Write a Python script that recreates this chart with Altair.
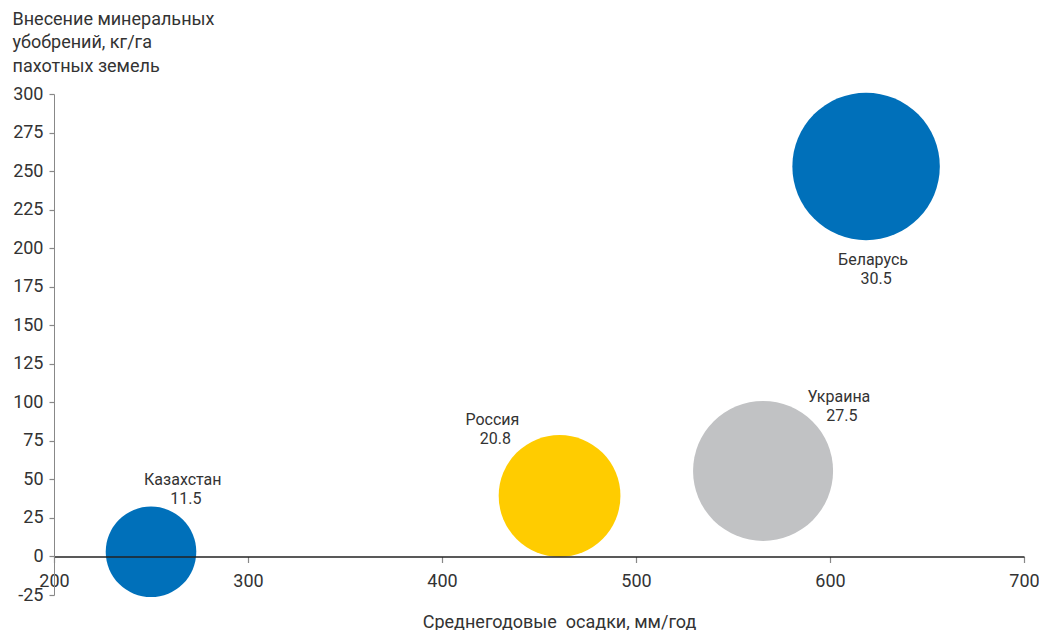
import altair as alt
import pandas as pd

countries = ["Казахстан", "Россия", "Украина", "Беларусь"]
precip = [250, 460.6, 565.5, 618.6]
fert = [3, 39.3, 55.5, 253]
bubble = [11.5, 20.8, 27.5, 30.5]
colors = ["#0070BA", "#FFCC00", "#C1C2C4", "#0070BA"]
label_x = [266.4, 426.0, 604.6, 622.2]
label_y = [49.6, 88.6, 103.7, 192.6]
value_labels = ["11.5", "20.8", "27.5", "30.5"]

x_ticks = [200, 300, 400, 500, 600, 700]
y_ticks = [-25, 0, 25, 50, 75, 100, 125, 150, 175, 200, 225, 250, 275, 300]

df = pd.DataFrame({
    "country": countries,
    "precip": precip,
    "fert": fert,
    "bubble": bubble,
    "color": colors,
    "lx": label_x,
    "ly": label_y,
    "vlabel": value_labels,
})

FONT = "Roboto"
TXT = "#333333"

x_scale = alt.Scale(domain=[200, 700], nice=False, zero=False)
y_scale = alt.Scale(domain=[-25, 300], nice=False, zero=False)

x_axis = alt.Axis(
    values=x_ticks, grid=False, offset=-38.5, zindex=1,
    domain=True, ticks=True, labelExpr="'' + datum.value",
    domainColor="#222222", domainWidth=1.3, tickColor="#888888", tickSize=6, tickWidth=1.2,
    labelFontSize=18, labelFont=FONT, labelColor=TXT, labelPadding=10,
    labelFlush=False, labelOverlap=False, labelBound=False,
    title="Среднегодовые\u00a0 осадки, мм/год", titleFont=FONT, titleFontSize=18,
    titleFontWeight="normal", titleColor=TXT, titleX=505, titleY=71,
    titleAlign="center", titleBaseline="alphabetic",
)
y_axis = alt.Axis(
    values=y_ticks, grid=False, zindex=1,
    domain=True, ticks=True, labelExpr="'' + datum.value",
    domainColor="#888888", tickColor="#888888", tickSize=5, tickWidth=1.2,
    labelFontSize=18, labelFont=FONT, labelColor=TXT, labelPadding=6,
    labelFlush=False, labelOverlap=False, labelBound=False,
    title=["Внесение минеральных", "убобрений, кг/га", "пахотных земель"],
    titleFont=FONT, titleFontSize=18, titleFontWeight="normal", titleColor=TXT,
    titleAngle=0, titleAlign="left", titleBaseline="alphabetic",
    titleX=-42, titleY=-70, titleLineHeight=23.5,
)

base = alt.Chart(df)

bubbles = base.mark_circle(opacity=1, strokeWidth=0).encode(
    x=alt.X("precip:Q", scale=x_scale, axis=x_axis),
    y=alt.Y("fert:Q", scale=y_scale, axis=y_axis),
    size=alt.Size("bubble:Q", scale=alt.Scale(domain=[0, 30.5], range=[0, 21745]), legend=None),
    color=alt.Color("color:N", scale=None),
    order=alt.Order("bubble:Q"),
)

names = base.mark_text(font=FONT, fontSize=16, color=TXT, align="center", baseline="middle").encode(
    x=alt.X("lx:Q", scale=x_scale, axis=x_axis),
    y=alt.Y("ly:Q", scale=y_scale, axis=y_axis),
    text="country:N",
)
vals = base.mark_text(font=FONT, fontSize=16, color=TXT, align="center", baseline="middle", dy=19, dx=3).encode(
    x=alt.X("lx:Q", scale=x_scale, axis=x_axis),
    y=alt.Y("ly:Q", scale=y_scale, axis=y_axis),
    text="vlabel:N",
)

chart = alt.layer(bubbles, names, vals).properties(
    width=970, height=501,
    autosize=alt.AutoSizeParams(type="none"),
    padding={"left": 46, "top": 86, "right": 15, "bottom": 36},
).configure(font=FONT).configure_view(strokeWidth=0, stroke="transparent").configure_axis(
    grid=False, labelOverlap=False, ticks=True
)

chart.save("out.html", embed_options={"renderer": "svg", "actions": False})
